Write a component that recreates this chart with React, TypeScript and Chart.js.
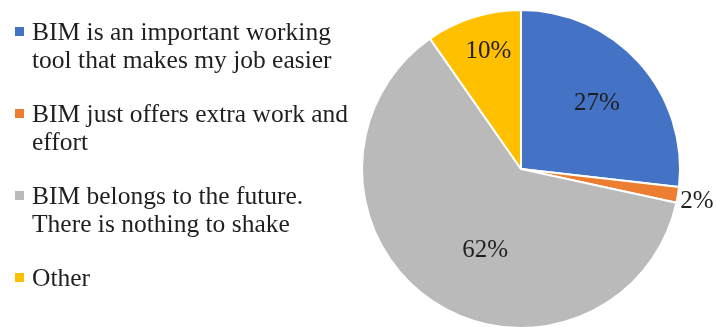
import React, { useEffect, useRef } from "react";
import { Chart, registerables } from "chart.js";

Chart.register(...registerables);

const categories: string[][] = [
  ["BIM is an important working", "tool that makes my job easier"],
  ["BIM just offers extra work and", "effort"],
  ["BIM belongs to the future.", "There is nothing to shake"],
  ["Other"],
];
const values: number[] = [26.8, 1.6, 61.9, 9.7];
const colors: string[] = ["#4472C4", "#ED7D31", "#BABABA", "#FFC000"];
const labelRadius: number[] = [0.63, 1.125, 0.56, 0.77];
const labelAngleOffsetDeg: number[] = [1, 1, -10, 2];

const FONT = '"Liberation Serif", "Times New Roman", serif';

const legendPlugin = {
  id: "sideLegend",
  afterDraw(chart: any) {
    const ctx = chart.ctx;
    ctx.save();
    ctx.font = `25.5px ${FONT}`;
    ctx.textBaseline = "alphabetic";
    ctx.textAlign = "left";
    const startY = 40;
    const itemStep = 82;
    const lineH = 28;
    categories.forEach((lines, i) => {
      const base = startY + i * itemStep;
      ctx.fillStyle = colors[i];
      ctx.fillRect(15, base - 13, 9, 9);
      ctx.fillStyle = "#1f1f1f";
      lines.forEach((ln, j) => {
        ctx.fillText(ln, 32, base + j * lineH);
      });
    });
    ctx.restore();
  },
};

const pieLabelPlugin = {
  id: "pieLabels",
  afterDatasetsDraw(chart: any) {
    const ctx = chart.ctx;
    const meta = chart.getDatasetMeta(0);
    ctx.save();
    ctx.font = `25px ${FONT}`;
    ctx.textAlign = "center";
    ctx.textBaseline = "middle";
    ctx.fillStyle = "#1f1f1f";
    meta.data.forEach((arc: any, i: number) => {
      const p = arc.getProps(["x", "y", "startAngle", "endAngle", "outerRadius"], true);
      const mid = (p.startAngle + p.endAngle) / 2 + (labelAngleOffsetDeg[i] * Math.PI) / 180;
      const r = p.outerRadius * labelRadius[i];
      const x = p.x + Math.cos(mid) * r;
      const y = p.y + Math.sin(mid) * r;
      ctx.fillText(`${Math.round(values[i])}%`, x, y);
    });
    ctx.restore();
  },
};

export default function App() {
  const ref = useRef<HTMLCanvasElement | null>(null);
  useEffect(() => {
    document.body.style.margin = "0";
    if (!ref.current) return;
    const chart = new Chart(ref.current, {
      type: "pie",
      data: {
        labels: categories.map((l) => l.join(" ")),
        datasets: [
          {
            data: values,
            backgroundColor: colors,
            borderColor: "#ffffff",
            borderWidth: 2,
          },
        ],
      },
      options: {
        animation: false,
        responsive: false,
        maintainAspectRatio: false,
        layout: { padding: { left: 361, right: 35, top: 9, bottom: 0 } },
        plugins: {
          legend: { display: false },
          tooltip: { enabled: false },
        },
      },
      plugins: [legendPlugin, pieLabelPlugin],
    });
    return () => chart.destroy();
  }, []);
  return (
    <div style={{ width: 716, height: 327, overflow: "hidden", background: "#fff" }}>
      <canvas ref={ref} width={716} height={329} style={{ display: "block" }} />
    </div>
  );
}
